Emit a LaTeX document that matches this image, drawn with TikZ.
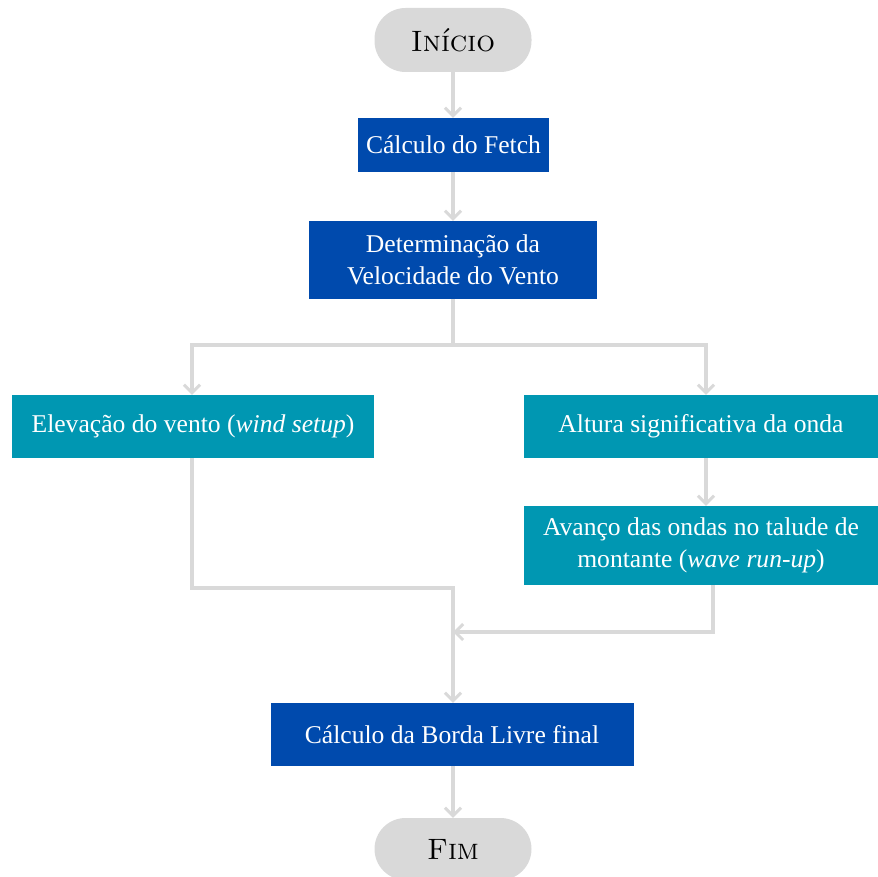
\documentclass[tikz,border=0pt]{standalone}
\usepackage{fontspec}
\setmainfont{Liberation Serif}
\newfontfamily\capsfont{Latin Modern Roman Caps}
\usetikzlibrary{arrows.meta}
\definecolor{lgray}{HTML}{D9D9D9}
\definecolor{cblue}{HTML}{004AAD}
\definecolor{cteal}{HTML}{0097B2}
\begin{document}
\begin{tikzpicture}[x=1pt,y=-1pt,
  conn/.style={draw=lgray,line width=3.5pt,-{Straight Barb[length=8pt,width=16pt,line width=3pt]}},
  pill/.style={fill=lgray,rounded corners=31pt,minimum width=157pt,minimum height=64pt,inner sep=0pt,font=\capsfont\fontsize{29.5}{32}\selectfont},
  bbox/.style={fill=cblue,text=white,font=\fontsize{25.6}{32}\selectfont,align=center,inner sep=0pt},
  tbox/.style={fill=cteal,text=white,font=\fontsize{25.6}{32}\selectfont,align=center,inner sep=0pt}]
\useasboundingbox (0,0) rectangle (878,877);
\node[pill] (inicio) at (453,40) {Início};
\node[bbox,minimum width=191pt,minimum height=54pt] (fetch) at (453.5,145) {Cálculo do Fetch};
\node[bbox,minimum width=288pt,minimum height=78pt] (vel) at (453,260) {Determinação da\\Velocidade do Vento};
\node[tbox,minimum width=362pt,minimum height=63pt] (elev) at (193,426.5) {Elevação do vento (\textit{wind setup})};
\node[tbox,minimum width=354pt,minimum height=63pt] (alt) at (701,426.5) {Altura significativa da onda};
\node[tbox,minimum width=354pt,minimum height=79pt] (avanco) at (701,545.5) {Avanço das ondas no talude de\\montante (\textit{wave run-up})};
\node[bbox,minimum width=363pt,minimum height=63pt] (borda) at (452,734.5) {Cálculo da Borda Livre final};
\node[pill,minimum height=62pt] (fim) at (453,849) {Fim};
\coordinate (split) at (453,345);
\coordinate (j1) at (453,588);
\coordinate (j2) at (453,632);
\draw[conn] (inicio.south) -- (fetch.north -| inicio.south);
\draw[conn] (fetch.south -| inicio.south) -- (vel.north -| inicio.south);
\draw[draw=lgray,line width=3.5pt] (vel.south) -- (split);
\draw[conn] (split) -| ([xshift=-1pt]elev.north);
\draw[conn] (split) -| ([xshift=5pt]alt.north);
\draw[conn] ([xshift=5pt]alt.south) -- ([xshift=5pt]avanco.north);
\draw[conn] ([xshift=-1pt]elev.south) |- (j1) -- (borda.north -| j1);
\draw[conn] ([xshift=12pt]avanco.south) |- (j2);
\draw[conn] (borda.south -| j1) -- (fim.north);
\end{tikzpicture}
\end{document}
